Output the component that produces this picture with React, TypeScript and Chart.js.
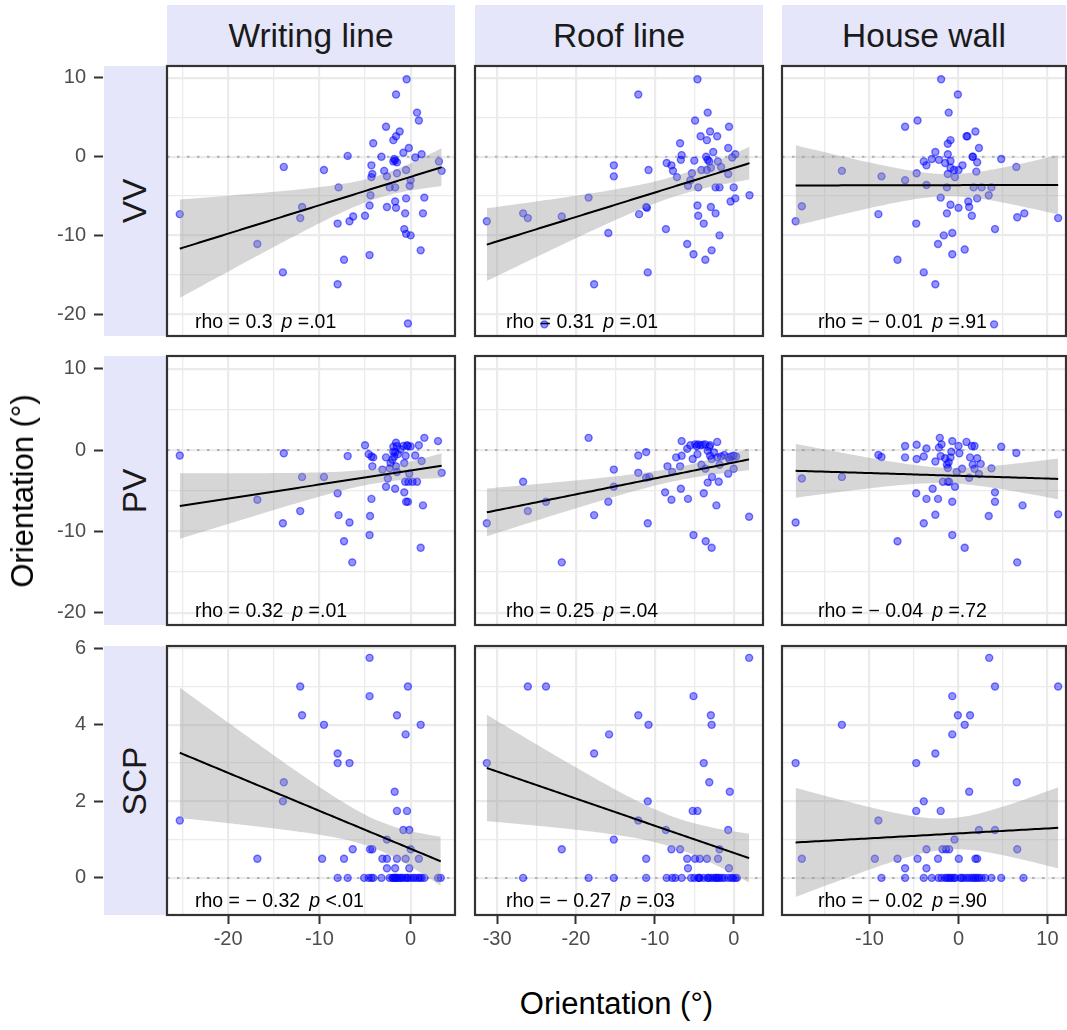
import React, { useEffect, useRef } from "react";
import { Chart, registerables } from "chart.js";
Chart.register(...registerables);

// ---------------- data ----------------
const columnLabels = ["Writing line", "Roof line", "House wall"];
const rowLabels = ["VV", "PV", "SCP"];
const axisTitle = "Orientation (°)";

const xTickValues = [[-20, -10, 0], [-30, -20, -10, 0], [-10, 0, 10]];
const yTickValues = [[-20, -10, 0, 10], [-20, -10, 0, 10], [0, 2, 4, 6]];
const xLimits = [[-26.7, 4.86], [-32.8, 3.71], [-19.83, 12.08]];
const yLimits = [[-22.78, 11.52], [-21.5, 11.56], [-0.97, 6.06]];

const rhoLabels = [["0.3", "0.31", "− 0.01"], ["0.32", "0.25", "− 0.04"], ["− 0.32", "− 0.27", "− 0.02"]];
const pLabels = [["=.01", "=.01", "=.91"], ["=.01", "=.04", "=.72"], ["<.01", "=.03", "=.90"]];

const vvWriting = [
  [-0.44, 9.83], [-1.6, 7.9], [0.7, 5.6], [0.9, 4.6], [-2.7, 3.8], [-1.2, 3.2], [-1.6, 2.6], [-1.9, 2.1],
  [-4.1, 1.7], [-0.2, 1.1], [-0.8, 0.5], [-6.9, 0.1], [-3.2, 0.0], [1.2, 0.3], [0.5, -0.1], [-1.7, -0.5],
  [-1.9, -0.6], [-1.5, -0.7], [-1.8, -0.3], [3.1, -0.6], [3.4, -1.8], [-13.9, -1.3], [-9.5, -1.7], [-4.3, -1.1],
  [-2.9, -1.8], [-4.2, -2.2], [-4.3, -2.6], [-2.6, -2.5], [-0.5, -1.7], [-1.5, -2.1], [0.0, -3.0], [-0.1, -3.7],
  [-2.3, -3.9], [-1.7, -3.9], [-7.9, -3.9], [-4.4, -4.9], [1.5, -5.2], [-0.5, -5.3], [-11.9, -6.4], [-4.5, -6.2],
  [-2.6, -6.4], [-1.7, -5.7], [-1.6, -6.5], [-25.3, -7.3], [-12.1, -7.8], [-6.3, -7.6], [-6.7, -8.2], [-5.0, -7.5],
  [-0.6, -7.2], [1.35, -7.2], [-8.0, -8.5], [-0.7, -9.2], [-0.5, -9.8], [0.0, -10.0], [-16.8, -11.1], [1.1, -11.9],
  [-4.5, -12.5], [-7.3, -13.1], [-14.0, -14.7], [-8.0, -16.2], [-0.3, -21.2],
];
const vvRoof = [
  [-4.6, 9.83], [-12.1, 7.9], [-3.3, 5.6], [-4.9, 4.6], [-0.6, 3.8], [-3.0, 3.2], [-4.2, 2.6], [-2.1, 2.6],
  [-3.4, 2.1], [-6.8, 1.7], [-0.7, 1.1], [-2.6, 0.6], [-6.6, 0.2], [0.2, 0.3], [-3.5, 0.0], [-0.2, -0.1],
  [-5.0, -0.5], [-6.7, -0.4], [-3.3, -0.4], [-3.1, -0.6], [-8.5, -0.8], [-7.9, -1.1], [-15.2, -1.1], [-2.0, -0.6],
  [-1.6, -1.3], [-7.7, -1.8], [-10.8, -1.7], [-4.1, -1.7], [-3.4, -1.7], [-2.9, -1.4], [-5.3, -2.1], [-0.7, -2.2],
  [-7.2, -2.6], [-15.2, -2.5], [-5.5, -3.0], [-5.8, -3.7], [-4.5, -3.9], [-2.3, -3.9], [-1.8, -3.9], [0.0, -3.9],
  [-18.4, -5.2], [2.0, -4.9], [0.2, -5.3], [-0.4, -5.7], [-4.6, -6.2], [-2.9, -6.4], [-11.1, -6.4], [-11.0, -6.5],
  [-2.3, -7.2], [-26.7, -7.2], [-4.5, -7.5], [-26.1, -7.8], [-12.0, -7.3], [-21.8, -7.6], [-31.3, -8.2], [-3.8, -8.5],
  [-8.6, -9.2], [-15.9, -9.7], [-1.8, -10.0], [-5.9, -11.1], [-5.1, -12.4], [-2.8, -11.9], [-3.6, -13.1], [-10.9, -14.7],
  [-17.7, -16.2], [-24.0, -21.3],
];
const vvWall = [
  [-1.95, 9.83], [-0.07, 7.9], [-1.1, 5.6], [-4.6, 4.6], [-6.0, 3.8], [1.9, 3.2], [0.9, 2.6], [1.0, 2.6],
  [-0.9, 2.1], [-1.2, 1.65], [2.3, 1.1], [-2.6, 0.6], [-1.2, 0.3], [1.6, 0.0], [1.6, 0.0], [4.8, -0.3],
  [-3.9, -0.6], [-3.0, -0.3], [-2.2, -0.4], [-3.6, -1.1], [-1.5, -0.8], [-0.9, -0.55], [2.1, -0.7], [0.45, -1.1],
  [-0.9, -1.4], [-0.5, -1.7], [0.0, -1.7], [6.5, -1.3], [-13.1, -1.8], [-4.7, -2.1], [2.0, -1.9], [-1.2, -2.2],
  [-0.4, -2.6], [-8.65, -2.5], [-6.0, -3.0], [-3.6, -3.6], [-1.3, -3.9], [1.7, -3.9], [2.6, -3.9], [3.7, -3.9],
  [3.4, -4.9], [-2.0, -5.2], [2.1, -5.3], [1.1, -5.7], [1.2, -6.4], [-17.6, -6.3], [-0.9, -6.1], [0.0, -6.5],
  [-1.3, -7.2], [1.5, -7.5], [-9.0, -7.3], [7.4, -7.2], [6.6, -7.7], [-18.3, -8.2], [11.2, -7.8], [-4.75, -8.5],
  [4.1, -9.2], [-0.7, -9.7], [-1.65, -10.0], [-2.3, -11.1], [0.7, -11.8], [-0.7, -12.4], [-6.85, -13.1], [-3.9, -14.7],
  [-2.6, -16.2], [4.0, -21.3],
];
const pvWriting = [
  [-25.3, -0.66], [-13.9, -0.4], [-6.9, -0.74], [-5.0, 0.6], [-4.6, -0.5], [-4.3, -0.8], [-4.1, -0.9], [-4.2, -2.0],
  [-3.1, -2.4], [-2.7, -0.9], [-2.2, -1.6], [-1.9, -0.2], [-1.8, -0.8], [-1.6, 0.9], [-1.5, 0.5], [-0.8, 0.5],
  [-0.4, 0.6], [-0.3, 0.5], [0.0, 0.45], [0.9, 0.6], [1.5, 1.5], [3.0, 1.1], [-0.55, -0.7], [0.5, -0.66],
  [1.2, -1.35], [-0.7, -1.6], [-1.6, -2.0], [-1.5, -2.7], [-2.3, -2.25], [-0.15, -2.9], [3.4, -2.8], [-2.5, -3.5],
  [-0.6, -3.9], [-0.25, -3.9], [0.2, -3.9], [0.7, -3.9], [-11.9, -3.3], [-9.5, -3.3], [-2.7, -4.5], [-1.7, -4.75],
  [-0.7, -5.2], [-8.0, -5.3], [-4.3, -6.0], [-16.8, -6.1], [-0.5, -6.35], [-0.3, -6.35], [1.35, -6.8], [-12.1, -7.5],
  [-7.9, -8.0], [-4.45, -8.1], [-14.0, -9.0], [-6.7, -8.9], [-4.5, -10.45], [-7.3, -11.2], [1.1, -12.0], [-6.4, -13.8],
  [-1.7, -0.3], [-1.4, -0.5], [-2.0, -1.2], [-1.1, 0.1], [-1.9, 0.4],
];
const pvRoof = [
  [-18.4, 1.5], [-6.6, 1.1], [-5.5, 0.6], [-4.9, 0.7], [-4.5, 0.7], [-4.2, 0.6], [-3.6, 0.7], [-3.1, 0.4],
  [-3.0, 0.6], [-2.1, 1.0], [-5.9, 0.16], [-3.3, -0.1], [-3.0, -0.7], [-2.8, -1.1], [-4.6, -0.5], [-11.1, -0.25],
  [-12.1, -0.66], [-7.3, -0.9], [-6.6, -0.7], [-5.2, -1.1], [-4.1, -1.8], [-3.6, -2.3], [-2.1, -0.9], [-1.6, -0.8],
  [-0.7, -0.9], [-0.3, -0.8], [0.0, -0.7], [0.3, -0.8], [-1.8, -1.8], [-0.7, -2.9], [0.0, -2.3], [-6.8, -2.0],
  [-8.4, -2.0], [-7.8, -2.7], [-15.2, -2.4], [-12.1, -2.8], [-11.1, -3.4], [-10.7, -3.3], [-2.75, -3.3], [-3.3, -4.0],
  [-1.9, -3.9], [-26.7, -3.9], [-15.2, -4.5], [-6.7, -4.75], [-8.7, -5.2], [-7.9, -6.1], [-5.8, -6.0], [-3.8, -5.3],
  [-23.8, -6.35], [-26.1, -7.5], [-15.9, -6.35], [-2.2, -6.8], [-17.7, -8.0], [1.95, -8.2], [-31.3, -9.0], [-10.9, -9.0],
  [-5.1, -10.45], [-3.55, -11.2], [-2.8, -12.0], [-21.8, -13.8], [-4.7, 0.5], [-3.9, 0.65], [-2.5, -0.3],
  [-1.2, -0.6], [-0.5, -1.2],
];
const pvWall = [
  [-18.3, -8.9], [-17.6, -3.5], [-13.1, -3.3], [-9.0, -0.6], [-8.65, -0.86], [-6.85, -11.2], [-6.0, 0.5], [-6.0, -0.9],
  [-4.7, 0.66], [-4.7, -1.1], [-3.9, -0.8], [-3.6, 0.2], [-4.75, -5.3], [-3.9, -9.0], [-3.6, -6.0], [-2.9, -4.75],
  [-2.6, -1.4], [-2.6, -7.95], [-2.3, -6.0], [-2.1, 1.5], [-1.9, 0.7], [-2.2, 0.3], [-2.0, -0.74], [-1.75, -3.9],
  [-1.2, -3.9], [-1.05, -3.9], [-1.5, -1.0], [-1.3, -1.8], [-1.1, -1.5], [-0.9, -0.9], [-1.2, -2.2], [-0.8, -0.2],
  [-0.7, 1.1], [-0.7, -6.35], [-0.7, -10.45], [-0.4, -4.5], [-0.2, -2.7], [0.0, 0.5], [0.1, -0.4], [0.4, -2.3],
  [0.7, -12.0], [0.9, 1.0], [1.2, -3.4], [1.3, -0.9], [1.5, 0.5], [1.8, 0.5], [1.6, -1.8], [1.8, -2.3],
  [2.1, -1.0], [2.3, -2.95], [2.5, -1.7], [3.4, -8.1], [3.7, -2.25], [4.1, -5.2], [4.1, -6.35], [4.8, 0.4],
  [6.5, -0.37], [7.2, -6.8], [6.6, -13.8], [11.2, -7.9],
];
const scpWriting = [
  [-25.3, 1.5], [-16.8, 0.5], [-13.9, 2.5], [-14.0, 2.0], [-12.1, 5.0], [-11.9, 4.25], [-9.5, 4.0], [-9.7, 0.5],
  [-8.0, 3.25], [-8.0, 3.0], [-6.7, 3.0], [-7.3, 0.5], [-6.35, 0.75], [-4.5, 5.75], [-4.5, 4.75], [-4.45, 0.75],
  [-4.2, 0.75], [-3.1, 0.5], [-2.6, 0.5], [-2.6, 1.0], [-2.6, 0.25], [-1.7, 0.25], [-1.75, 2.25], [-1.5, 4.25],
  [-1.5, 1.75], [-1.5, 0.5], [-0.55, 3.75], [-0.4, 1.75], [-0.3, 5.0], [-0.8, 1.25], [-0.15, 1.25], [-0.55, 0.5],
  [0.0, 0.75], [-0.15, 0.25], [0.9, 0.5], [1.1, 4.0],
  [-8.0, 0], [-6.9, 0], [-5.1, 0], [-4.6, 0], [-4.3, 0], [-4.1, 0], [-3.2, 0], [-2.3, 0], [-2.0, 0], [-1.9, 0],
  [-1.7, 0], [-1.6, 0], [-1.5, 0], [-1.4, 0], [-1.2, 0], [-0.9, 0], [-0.6, 0], [-0.4, 0], [0.3, 0], [0.8, 0],
  [1.2, 0], [1.5, 0], [3.0, 0], [3.3, 0], [-1.8, 0], [-1.0, 0], [-0.3, 0], [0.0, 0], [0.5, 0], [1.0, 0],
];
const scpRoof = [
  [1.95, 5.75], [-26.1, 5.0], [-23.8, 5.0], [-5.1, 4.75], [-12.1, 4.25], [-2.9, 4.25], [-2.8, 4.0], [-10.8, 4.0],
  [-15.8, 3.75], [-17.7, 3.25], [-31.3, 3.0], [-3.8, 3.0], [-3.1, 2.5], [-0.5, 2.25], [-10.9, 2.0], [-5.2, 1.75],
  [-4.6, 1.75], [-12.1, 1.5], [-8.6, 1.25], [-0.7, 1.25], [-15.2, 1.0], [-21.8, 0.75], [-7.9, 0.75], [-6.8, 0.75],
  [-1.8, 0.75], [-11.1, 0.5], [-5.9, 0.5], [-4.9, 0.5], [-4.3, 0.5], [-3.4, 0.5], [-2.0, 0.5], [-5.8, 0.25],
  [-0.6, 0.25],
  [-26.7, 0], [-18.4, 0], [-15.2, 0], [-11.1, 0], [-8.5, 0], [-7.8, 0], [-7.4, 0], [-6.6, 0], [-5.4, 0], [-4.5, 0],
  [-4.4, 0], [-4.3, 0], [-3.3, 0], [-3.2, 0], [-2.6, 0], [-2.3, 0], [-2.2, 0], [-1.8, 0], [-0.7, 0], [-0.3, 0],
  [0.2, 0], [0.4, 0], [-5.0, 0], [-3.8, 0], [-2.9, 0], [-2.0, 0], [-1.5, 0], [-1.2, 0], [-0.1, 0],
];
const scpWall = [
  [3.45, 5.75], [4.1, 5.0], [11.2, 5.0], [-0.7, 4.75], [-0.07, 4.25], [1.3, 4.25], [0.7, 4.0], [-13.1, 4.0],
  [-0.7, 3.75], [-2.6, 3.25], [-18.3, 3.0], [-4.75, 3.0], [6.55, 2.5], [1.2, 2.25], [-3.9, 2.0], [-4.75, 1.75],
  [-2.0, 1.75], [-9.0, 1.5], [2.3, 1.25], [4.1, 1.25], [-0.45, 1.0], [-3.6, 0.75], [-1.8, 0.75], [-1.4, 0.75],
  [-1.05, 0.75], [6.6, 0.75], [-17.6, 0.5], [-9.4, 0.5], [-6.85, 0.5], [-4.6, 0.5], [-2.3, 0.5], [0.04, 0.5],
  [1.9, 0.5], [2.1, 0.5], [-6.0, 0.25], [-3.6, 0.25],
  [-8.65, 0], [-6.0, 0], [-3.9, 0], [-3.0, 0], [-2.25, 0], [-1.9, 0], [-1.5, 0], [-1.1, 0], [-0.94, 0], [-0.75, 0],
  [-0.37, 0], [0.37, 0], [0.94, 0], [1.5, 0], [1.7, 0], [2.1, 0], [2.6, 0], [3.7, 0], [4.8, 0], [7.3, 0],
  [-1.3, 0], [-0.5, 0], [0.2, 0], [0.6, 0], [1.2, 0], [1.9, 0], [2.3, 0], [3.0, 0],
];

const panelData = [
  [vvWriting, vvRoof, vvWall],
  [pvWriting, pvRoof, pvWall],
  [scpWriting, scpRoof, scpWall],
];

// ---------------- layout & style ----------------
const FONT = '"Liberation Sans", Arial, Helvetica, sans-serif';
const PANEL_LEFT = [167, 475, 782];
const PANEL_WIDTH = [288, 288, 284];
const PANEL_TOP = [66, 356, 646];
const PANEL_HEIGHT = [270, 269, 269];
const TEXT_OFFSET = [28, 31, 36];
const STRIP_BG = "#E6E6FA";
const GRID_COLOR = "#EBEBEB";

function gridValues(min: number, max: number, step: number) {
  const out: number[] = [];
  for (let v = Math.ceil(min / step) * step; v <= max + 1e-9; v += step) out.push(Math.round(v * 1000) / 1000);
  return out;
}

function linearFit(pts: number[][]) {
  const n = pts.length;
  let mx = 0, my = 0;
  pts.forEach(([x, y]) => { mx += x; my += y; });
  mx /= n; my /= n;
  let sxx = 0, sxy = 0;
  pts.forEach(([x, y]) => { sxx += (x - mx) * (x - mx); sxy += (x - mx) * (y - my); });
  const b = sxy / sxx;
  const a = my - b * mx;
  let sse = 0;
  pts.forEach(([x, y]) => { const r = y - a - b * x; sse += r * r; });
  const df = n - 2;
  const s = Math.sqrt(sse / df);
  const t = 1.96 + 2.4 / df + 2.6 / (df * df);
  const xs = pts.map((p) => p[0]);
  const xmin = Math.min(...xs), xmax = Math.max(...xs);
  const line: { x: number; y: number }[] = [];
  const upper: { x: number; y: number }[] = [];
  const lower: { x: number; y: number }[] = [];
  const N = 80;
  for (let i = 0; i <= N; i++) {
    const x = xmin + ((xmax - xmin) * i) / N;
    const yhat = a + b * x;
    const se = s * Math.sqrt(1 / n + ((x - mx) * (x - mx)) / sxx);
    line.push({ x, y: yhat });
    upper.push({ x, y: yhat + t * se });
    lower.push({ x, y: yhat - t * se });
  }
  return { line, upper, lower };
}

function zeroScalePadding(s: any) {
  s.paddingTop = 0;
  s.paddingBottom = 0;
  s.paddingLeft = 0;
  s.paddingRight = 0;
}

function Panel({ row, col }: { row: number; col: number }) {
  const ref = useRef<HTMLCanvasElement>(null);
  useEffect(() => {
    const pts = panelData[row][col];
    const fit = linearFit(pts);
    const [xmin, xmax] = xLimits[col];
    const [ymin, ymax] = yLimits[row];
    const yMajor = row === 2 ? 2 : 10;
    const yStep = row === 2 ? 1 : 5;
    const xGrid = gridValues(xmin, xmax, 5);
    const yGrid = gridValues(ymin, ymax, yStep);
    const chart = new Chart(ref.current as HTMLCanvasElement, {
      type: "scatter",
      data: {
        datasets: [
          { type: "line", data: fit.upper, borderWidth: 0, pointRadius: 0, fill: 1, backgroundColor: "rgba(153,153,153,0.4)", order: 2 } as any,
          { type: "line", data: fit.lower, borderWidth: 0, pointRadius: 0, fill: false, order: 3 } as any,
          { type: "line", data: fit.line, borderColor: "#000000", borderWidth: 2, pointRadius: 0, fill: false, order: 1 } as any,
          {
            data: pts.map(([x, y]) => ({ x, y })),
            backgroundColor: "rgba(0,0,255,0.42)",
            borderColor: "rgba(0,0,255,0.52)",
            borderWidth: 1.4,
            pointRadius: 3.5,
            order: 5,
          },
          { type: "line", data: [{ x: xmin, y: 0 }, { x: xmax, y: 0 }], borderColor: "#B0B0B0", borderWidth: 2, borderDash: [2.5, 7.5], pointRadius: 0, fill: false, order: 10 } as any,
        ],
      },
      options: {
        animation: false,
        responsive: false,
        devicePixelRatio: 1,
        layout: { padding: 2, autoPadding: false },
        plugins: { legend: { display: false }, tooltip: { enabled: false } },
        scales: {
          x: {
            type: "linear", min: xmin, max: xmax,
            afterBuildTicks: (s: any) => { s.ticks = xGrid.map((v) => ({ value: v })); },
            afterFit: (s: any) => { s.height = 0; zeroScalePadding(s); },
            ticks: { display: false },
            grid: { color: GRID_COLOR, drawTicks: false, lineWidth: (c: any) => (Math.abs(c.tick.value % 10) < 1e-6 ? 2.2 : 1.3) },
            border: { display: false },
          },
          y: {
            type: "linear", min: ymin, max: ymax,
            afterBuildTicks: (s: any) => { s.ticks = yGrid.map((v) => ({ value: v })); },
            afterFit: (s: any) => { s.width = 0; zeroScalePadding(s); },
            ticks: { display: false },
            grid: { color: GRID_COLOR, drawTicks: false, lineWidth: (c: any) => (Math.abs(c.tick.value % yMajor) < 1e-6 ? 2.2 : 1.3) },
            border: { display: false },
          },
        },
      } as any,
      plugins: [
        {
          id: "panelDecor",
          afterDraw: (c: any) => {
            const ctx = c.ctx;
            const ca = c.chartArea;
            ctx.save();
            const y = ca.bottom - 13;
            let x = ca.left + TEXT_OFFSET[col];
            ctx.fillStyle = "#000000";
            ctx.textBaseline = "middle";
            ctx.textAlign = "left";
            const normal = `19.5px ${FONT}`;
            const italic = `italic 19.5px ${FONT}`;
            const s1 = "rho = " + rhoLabels[row][col];
            ctx.font = normal;
            ctx.fillText(s1, x, y);
            x += ctx.measureText(s1).width + 9;
            ctx.font = italic;
            ctx.fillText("p", x, y);
            x += ctx.measureText("p").width;
            ctx.font = normal;
            ctx.fillText(" " + pLabels[row][col], x, y);
            ctx.strokeStyle = "#333333";
            ctx.lineWidth = 2.2;
            ctx.strokeRect(ca.left, ca.top, ca.right - ca.left, ca.bottom - ca.top);
            ctx.restore();
          },
        },
      ],
    });
    return () => chart.destroy();
  }, [row, col]);
  const w = PANEL_WIDTH[col] + 4;
  const h = PANEL_HEIGHT[row] + 4;
  return (
    <canvas
      ref={ref}
      width={w}
      height={h}
      style={{ position: "absolute", left: PANEL_LEFT[col] - 2, top: PANEL_TOP[row] - 2, width: w, height: h }}
    />
  );
}

function YAxis({ row }: { row: number }) {
  const ref = useRef<HTMLCanvasElement>(null);
  useEffect(() => {
    const chart = new Chart(ref.current as HTMLCanvasElement, {
      type: "scatter",
      data: { datasets: [] },
      options: {
        animation: false,
        responsive: false,
        devicePixelRatio: 1,
        layout: { padding: { top: 15, bottom: 15, left: 0, right: 0 }, autoPadding: false },
        plugins: { legend: { display: false }, tooltip: { enabled: false } },
        scales: {
          x: { display: false, min: 0, max: 1 },
          y: {
            type: "linear", position: "left", min: yLimits[row][0], max: yLimits[row][1],
            afterBuildTicks: (s: any) => { s.ticks = yTickValues[row].map((v) => ({ value: v })); },
            afterFit: (s: any) => { s.width = 103; zeroScalePadding(s); },
            grid: { drawOnChartArea: false, drawTicks: true, tickLength: 9, tickColor: "#333333", tickWidth: 2 },
            border: { display: false },
            ticks: { color: "#4D4D4D", font: { size: 20, family: FONT }, padding: 8 },
          },
        },
      } as any,
    });
    return () => chart.destroy();
  }, [row]);
  const h = PANEL_HEIGHT[row] + 30;
  return (
    <canvas ref={ref} width={105} height={h} style={{ position: "absolute", left: 0, top: PANEL_TOP[row] - 15, width: 105, height: h }} />
  );
}

function XAxis({ col }: { col: number }) {
  const ref = useRef<HTMLCanvasElement>(null);
  useEffect(() => {
    const chart = new Chart(ref.current as HTMLCanvasElement, {
      type: "scatter",
      data: { datasets: [] },
      options: {
        animation: false,
        responsive: false,
        devicePixelRatio: 1,
        layout: { padding: { top: 0, bottom: 0, left: 25, right: 25 }, autoPadding: false },
        plugins: { legend: { display: false }, tooltip: { enabled: false } },
        scales: {
          y: { display: false, min: 0, max: 1 },
          x: {
            type: "linear", position: "bottom", min: xLimits[col][0], max: xLimits[col][1],
            afterBuildTicks: (s: any) => { s.ticks = xTickValues[col].map((v) => ({ value: v })); },
            afterFit: (s: any) => { s.height = 42; zeroScalePadding(s); },
            grid: { drawOnChartArea: false, drawTicks: true, tickLength: 8, tickColor: "#333333", tickWidth: 2 },
            border: { display: false },
            ticks: { color: "#4D4D4D", font: { size: 20, family: FONT }, padding: 3, maxRotation: 0 },
          },
        },
      } as any,
    });
    return () => chart.destroy();
  }, [col]);
  const w = PANEL_WIDTH[col] + 50;
  const bottom = PANEL_TOP[2] + PANEL_HEIGHT[2];
  return (
    <canvas ref={ref} width={w} height={45} style={{ position: "absolute", left: PANEL_LEFT[col] - 25, top: bottom - 2, width: w, height: 45 }} />
  );
}

export default function App() {
  const textStyle: React.CSSProperties = { fontFamily: FONT, color: "#1A1A1A", fontSize: 33.5, whiteSpace: "nowrap" };
  const titleStyle: React.CSSProperties = { fontFamily: FONT, color: "#000000", fontSize: 31, whiteSpace: "nowrap" };
  const plotBottom = PANEL_TOP[2] + PANEL_HEIGHT[2];
  return (
    <div style={{ position: "absolute", left: 0, top: 0, width: 1067, height: 1030, background: "#FFFFFF", overflow: "hidden" }}>
      {columnLabels.map((lab, c) => (
        <div
          key={"cs" + c}
          style={{
            ...textStyle, position: "absolute", left: PANEL_LEFT[c], top: 5, width: PANEL_WIDTH[c], height: 61,
            background: STRIP_BG, display: "flex", alignItems: "center", justifyContent: "center",
          }}
        >
          {lab}
        </div>
      ))}
      {rowLabels.map((lab, r) => (
        <div
          key={"rs" + r}
          style={{ position: "absolute", left: 104, top: PANEL_TOP[r], width: 62, height: PANEL_HEIGHT[r], background: STRIP_BG }}
        >
          <div
            style={{
              ...textStyle, position: "absolute", left: "50%", top: "50%",
              transform: "translate(-50%, -50%) rotate(-90deg)",
            }}
          >
            {lab}
          </div>
        </div>
      ))}
      {[0, 1, 2].map((r) => <YAxis key={"ya" + r} row={r} />)}
      {[0, 1, 2].map((c) => <XAxis key={"xa" + c} col={c} />)}
      {[0, 1, 2].map((r) => [0, 1, 2].map((c) => <Panel key={`p${r}${c}`} row={r} col={c} />))}
      <div
        style={{
          ...titleStyle, position: "absolute", left: 23, top: (PANEL_TOP[0] + plotBottom) / 2,
          transform: "translate(-50%, -50%) rotate(-90deg)",
        }}
      >
        {axisTitle}
      </div>
      <div
        style={{
          ...titleStyle, position: "absolute",
          left: (PANEL_LEFT[0] + PANEL_LEFT[2] + PANEL_WIDTH[2]) / 2, top: 1004,
          transform: "translate(-50%, -50%)",
        }}
      >
        {axisTitle}
      </div>
    </div>
  );
}
